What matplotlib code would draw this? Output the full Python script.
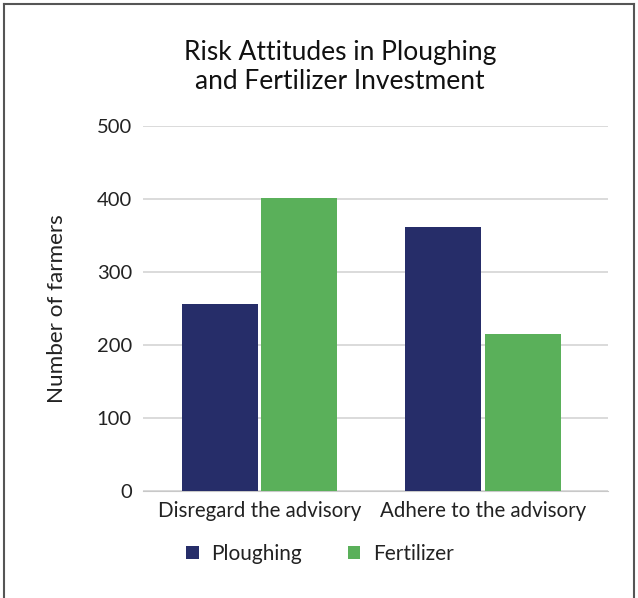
import matplotlib.pyplot as plt
import numpy as np

# Data
categories = ["Disregard the advisory", "Adhere to the advisory"]
ploughing = [256, 362]
fertilizer = [401, 215]
series_names = ["Ploughing", "Fertilizer"]
colors = ["#262d69", "#5ab05a"]

plt.rcParams['font.family'] = ['Lato', 'DejaVu Sans']

fig = plt.figure(figsize=(6.38, 5.98), dpi=100)
# axes in pixel coords: x 143..608, y 126..491 (from top)
W, H = 638, 598
ax = fig.add_axes([143 / W, 1 - 491 / H, (608 - 143) / W, (491 - 126) / H])

x = np.arange(len(categories))
bw = 0.34
gap = 0.007
ax.bar(x - bw / 2 - gap, ploughing, width=bw, color=colors[0], label=series_names[0], zorder=3)
ax.bar(x + bw / 2 + gap, fertilizer, width=bw, color=colors[1], label=series_names[1], zorder=3)

ax.set_xlim(-0.521, 1.559)
ax.set_ylim(0, 500)
ax.set_yticks([0, 100, 200, 300, 400, 500])
ax.yaxis.grid(True, color='#d4d4d4', linewidth=1.2, zorder=0)
ax.set_axisbelow(True)
for s in ax.spines.values():
    s.set_visible(False)
ax.spines['bottom'].set_visible(True)
ax.spines['bottom'].set_color('#c8c8c8')
ax.tick_params(axis='y', length=0, pad=8, labelsize=14.5, labelcolor='#222222')
ax.tick_params(axis='x', length=0, pad=7, labelsize=14.8, labelcolor='#222222')
ax.set_xticks(x)
ax.set_xticklabels(categories)

ax.set_ylabel("Number of farmers", fontsize=16.2, color='#222222')
ax.yaxis.set_label_coords(-0.163, 0.5)

fig.text(340 / W, 1 - 67 / H, "Risk Attitudes in Ploughing\nand Fertilizer Investment",
         ha='center', va='center', fontsize=19, color='#111111', linespacing=1.2)

handles, labels = ax.get_legend_handles_labels()
fig.legend(handles, labels, loc='center', bbox_to_anchor=(320 / W, 1 - 554 / H), ncol=2,
           frameon=False, fontsize=15, handlelength=0.6, handleheight=0.6,
           columnspacing=2.2, handletextpad=0.6, labelcolor='#222222')

# figure border (left, top, right)
for xs, ys in [([4, 4], [598, 4]), ([4, 634], [4, 4]), ([634, 634], [4, 598])]:
    fig.add_artist(plt.Line2D([v / W for v in xs], [1 - v / H for v in ys],
                              color='#555555', linewidth=1.5))

fig.savefig("out.png", dpi=100)
